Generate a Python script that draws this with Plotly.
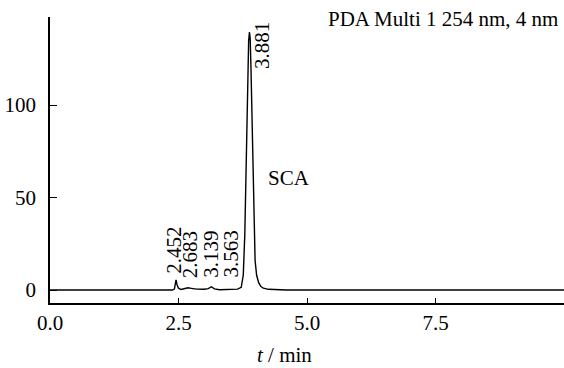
import plotly.graph_objects as go

# Chromatogram trace (time in min, signal)
time_min = [0.0, 1.0, 2.0, 2.38, 2.42, 2.44, 2.452, 2.47, 2.50, 2.55, 2.62, 2.683, 2.75, 2.85,
            3.00, 3.08, 3.139, 3.20, 3.30, 3.50, 3.563, 3.65, 3.72, 3.76, 3.79, 3.82, 3.845,
            3.865, 3.881, 3.895, 3.91, 3.93, 3.95, 3.97, 3.99, 4.02, 4.06, 4.10, 4.15, 4.25,
            4.40, 4.60, 6.0, 8.0, 10.0]
signal = [0.0, 0.0, 0.0, 0.0, 0.5, 3.0, 5.5, 3.0, 1.0, 0.3, 0.8, 1.2, 0.9, 0.5,
          0.4, 0.8, 1.8, 0.6, 0.2, 0.2, 0.4, 0.5, 1.5, 8.0, 30.0, 75.0, 115.0,
          135.0, 139.5, 136.0, 120.0, 90.0, 55.0, 30.0, 16.0, 8.0, 4.0, 2.0, 1.0, 0.4,
          0.1, 0.0, 0.0, 0.0, 0.0]

peak_rt = [2.452, 2.683, 3.139, 3.563, 3.881]
peak_labels = ["2.452", "2.683", "3.139", "3.563", "3.881"]

x_ticks = [0.0, 2.5, 5.0, 7.5]
x_tick_labels = ["0.0", "2.5", "5.0", "7.5"]
y_ticks = [0, 50, 100]
y_tick_labels = ["0", "50", "100"]

FONT = "Liberation Serif"
FS = 21

fig = go.Figure()
fig.add_trace(go.Scatter(x=time_min, y=signal, mode="lines",
                         line=dict(color="black", width=1.4), hoverinfo="skip",
                         showlegend=False))

# peak labels (rotated)
label_y = [8.0, 6.0, 6.0, 6.0, 119.0]
label_shift = [-2, 3, 0, -2, 13]
for rt, lab, ly, sh in zip(peak_rt, peak_labels, label_y, label_shift):
    fig.add_annotation(x=rt, y=ly, text=lab, textangle=-90, showarrow=False,
                       xanchor="center", yanchor="bottom", xshift=sh,
                       font=dict(family=FONT, size=FS, color="black"), borderpad=0)

fig.add_annotation(x=4.656, y=60.5, text="SCA", showarrow=False,
                   xanchor="center", yanchor="middle",
                   font=dict(family=FONT, size=FS, color="black"))
fig.add_annotation(x=1, y=1, xref="paper", yref="paper", xanchor="right", yanchor="middle",
                   xshift=-4, yshift=-2, text="PDA Multi 1 254 nm, 4 nm", showarrow=False,
                   font=dict(family=FONT, size=FS, color="black"))
fig.add_annotation(x=(284 - 50) / 514, y=-52 / 286, xref="paper", yref="paper",
                   text="<i>t</i> / min", showarrow=False, xanchor="center", yanchor="middle",
                   font=dict(family=FONT, size=FS, color="black"))

fig.update_layout(
    width=564, height=368,
    margin=dict(l=50, r=0, t=17, b=65, pad=0),
    paper_bgcolor="white", plot_bgcolor="white",
    font=dict(family=FONT, size=FS, color="black"),
    showlegend=False,
)

fig.update_xaxes(range=[0, 10], tickvals=x_ticks, ticktext=x_tick_labels,
                 showline=True, linecolor="black", linewidth=1.5, showgrid=False,
                 zeroline=False, ticks="inside", ticklen=5, tickcolor="black", tickwidth=1,
                 ticklabelstandoff=0)
fig.update_yaxes(range=[-7, 147.6], tickvals=y_ticks, ticktext=y_tick_labels,
                 showline=True, linecolor="black", linewidth=1.5, showgrid=False,
                 zeroline=False, ticks="inside", ticklen=7, tickcolor="black", tickwidth=1,
                 ticklabelstandoff=8)

fig.write_html("out.html")
